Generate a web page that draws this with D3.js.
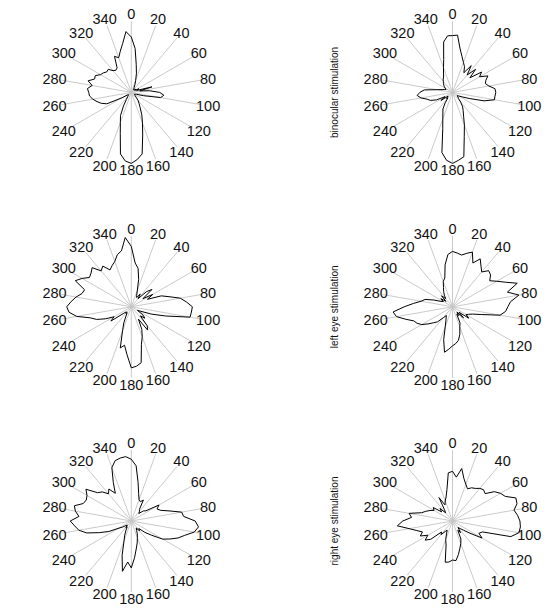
<!DOCTYPE html>
<html>
<head>
<meta charset="utf-8">
<script src="https://cdn.jsdelivr.net/npm/d3@7"></script>
<style>
  body { margin: 0; background: #fff; }
  text { font-family: "Liberation Sans", Arial, Helvetica, sans-serif; fill: #111; }
</style>
</head>
<body>
<svg id="container"></svg>
<script>
// direction bins (deg, clockwise from top) and the spoke / label angles
const angles = d3.range(0, 360, 5);
const tickAngles = d3.range(0, 360, 20);
const rowTitles = ['binocular stimulation', 'left eye stimulation', 'right eye stimulation'];

// normalised response per direction bin, one list per panel
const binocularA = [0.78, 0.62, 0.40, 0.28, 0.18, 0.12, 0.08, 0.06, 0.05, 0.06, 0.05, 0.08,
  0.06, 0.12, 0.08, 0.30, 0.12, 0.26, 0.40, 0.46, 0.42, 0.18, 0.08, 0.06,
  0.05, 0.06, 0.07, 0.10, 0.15, 0.19, 0.25, 0.35, 0.46, 0.62, 0.88, 0.95,
  1.00, 0.97, 0.88, 0.60, 0.45, 0.36, 0.22, 0.12, 0.08, 0.06, 0.05, 0.06,
  0.15, 0.38, 0.45, 0.50, 0.55, 0.59, 0.60, 0.62, 0.56, 0.63, 0.55, 0.56,
  0.50, 0.48, 0.45, 0.46, 0.40, 0.38, 0.40, 0.56, 0.52, 0.60, 0.70, 0.86];
const binocularB = [0.80, 0.81, 0.62, 0.52, 0.45, 0.40, 0.32, 0.46, 0.32, 0.46, 0.32, 0.50,
  0.44, 0.55, 0.50, 0.48, 0.52, 0.60, 0.61, 0.60, 0.60, 0.46, 0.25, 0.15,
  0.10, 0.08, 0.10, 0.12, 0.18, 0.25, 0.30, 0.37, 0.49, 0.64, 0.92, 0.96,
  1.00, 0.96, 0.86, 0.53, 0.40, 0.32, 0.27, 0.18, 0.10, 0.12, 0.08, 0.20,
  0.12, 0.25, 0.33, 0.37, 0.45, 0.50, 0.46, 0.40, 0.22, 0.15, 0.12, 0.10,
  0.12, 0.14, 0.16, 0.18, 0.20, 0.23, 0.25, 0.30, 0.37, 0.48, 0.72, 0.80];
const leftEyeA = [0.85, 0.62, 0.55, 0.40, 0.25, 0.18, 0.15, 0.22, 0.15, 0.30, 0.38, 0.20,
  0.35, 0.25, 0.45, 0.55, 0.70, 0.78, 0.86, 0.85, 0.84, 0.50, 0.30, 0.15,
  0.10, 0.20, 0.25, 0.18, 0.35, 0.40, 0.20, 0.35, 0.45, 0.55, 0.80, 0.84,
  0.86, 0.68, 0.55, 0.60, 0.36, 0.25, 0.15, 0.10, 0.12, 0.10, 0.15, 0.35,
  0.28, 0.40, 0.52, 0.60, 0.78, 0.88, 0.91, 0.85, 0.79, 0.72, 0.70, 0.87,
  0.80, 0.72, 0.74, 0.78, 0.66, 0.70, 0.60, 0.64, 0.68, 0.76, 0.80, 0.98];
const leftEyeB = [0.78, 0.76, 0.74, 0.78, 0.82, 0.68, 0.78, 0.70, 0.64, 0.72, 0.70, 0.64,
  0.72, 0.82, 0.97, 0.80, 0.95, 0.82, 0.78, 0.75, 0.68, 0.42, 0.30, 0.25,
  0.22, 0.28, 0.12, 0.22, 0.10, 0.15, 0.12, 0.25, 0.30, 0.40, 0.48, 0.52,
  0.55, 0.60, 0.65, 0.48, 0.30, 0.22, 0.18, 0.15, 0.20, 0.30, 0.35, 0.42,
  0.50, 0.55, 0.58, 0.68, 0.80, 0.84, 0.68, 0.55, 0.45, 0.40, 0.28, 0.18,
  0.15, 0.20, 0.12, 0.22, 0.15, 0.20, 0.25, 0.30, 0.38, 0.42, 0.60, 0.74];
const rightEyeA = [0.87, 0.78, 0.55, 0.40, 0.32, 0.30, 0.34, 0.20, 0.18, 0.15, 0.22, 0.25,
  0.45, 0.40, 0.44, 0.55, 0.72, 0.74, 0.90, 0.95, 0.90, 0.78, 0.70, 0.60,
  0.51, 0.35, 0.25, 0.15, 0.18, 0.12, 0.15, 0.20, 0.25, 0.32, 0.40, 0.52,
  0.66, 0.58, 0.72, 0.50, 0.30, 0.22, 0.15, 0.10, 0.12, 0.08, 0.10, 0.15,
  0.20, 0.35, 0.48, 0.65, 0.75, 0.80, 0.86, 0.74, 0.80, 0.83, 0.72, 0.70,
  0.72, 0.78, 0.62, 0.58, 0.50, 0.55, 0.45, 0.60, 0.80, 0.88, 0.90, 0.91];
const rightEyeB = [0.70, 0.62, 0.75, 0.62, 0.55, 0.50, 0.54, 0.56, 0.60, 0.62, 0.60, 0.72,
  0.78, 0.82, 0.95, 0.94, 0.88, 0.92, 0.95, 0.96, 0.95, 0.85, 0.45, 0.41,
  0.48, 0.30, 0.20, 0.15, 0.12, 0.20, 0.15, 0.28, 0.34, 0.40, 0.48, 0.56,
  0.55, 0.58, 0.59, 0.35, 0.28, 0.20, 0.15, 0.18, 0.25, 0.22, 0.40, 0.47,
  0.40, 0.50, 0.45, 0.52, 0.62, 0.78, 0.70, 0.58, 0.62, 0.45, 0.40, 0.35,
  0.30, 0.33, 0.20, 0.25, 0.15, 0.20, 0.38, 0.25, 0.30, 0.35, 0.45, 0.68];

const panels = [
  [binocularA, binocularB],
  [leftEyeA, leftEyeB],
  [rightEyeA, rightEyeB]
];

const width = 547, height = 608;
const R = 71, labelR = 78;
const colX = [131.3, 452.5];
const rowY = [92.4, 306.8, 521];

const rScale = d3.scaleLinear().domain([0, 1]).range([0, R]);
const aScale = d3.scaleLinear().domain([0, 360]).range([0, 2 * Math.PI]);

const line = d3.lineRadial()
  .angle(d => aScale(d[0]))
  .radius(d => rScale(d[1]))
  .curve(d3.curveLinearClosed);

const svg = d3.select('#container')
  .attr('width', width)
  .attr('height', height);

panels.forEach(function(row, ri) {
  row.forEach(function(values, ci) {
    const g = svg.append('g')
      .attr('transform', `translate(${colX[ci]},${rowY[ri]})`);

    g.selectAll('line.spoke')
      .data(tickAngles)
      .join('line')
        .attr('class', 'spoke')
        .attr('x1', 0).attr('y1', 0)
        .attr('x2', d => R * Math.sin(aScale(d)))
        .attr('y2', d => -R * Math.cos(aScale(d)))
        .attr('stroke', '#c4c4c4')
        .attr('stroke-width', 0.9);

    g.append('path')
      .datum(d3.zip(angles, values))
      .attr('d', line)
      .attr('fill', 'none')
      .attr('stroke', '#000')
      .attr('stroke-width', 1)
      .attr('stroke-linejoin', 'miter');

    g.selectAll('text.tick')
      .data(tickAngles)
      .join('text')
        .attr('class', 'tick')
        .attr('x', d => labelR * Math.sin(aScale(d)))
        .attr('y', d => -labelR * Math.cos(aScale(d)))
        .attr('text-anchor', 'middle')
        .attr('dominant-baseline', 'central')
        .attr('font-size', 14.5)
        .text(d => d);
  });

  svg.append('text')
    .attr('transform', `translate(338,${rowY[ri]}) rotate(-90)`)
    .attr('text-anchor', 'middle')
    .attr('font-size', 10)
    .text(rowTitles[ri]);
});
</script>
</body>
</html>
